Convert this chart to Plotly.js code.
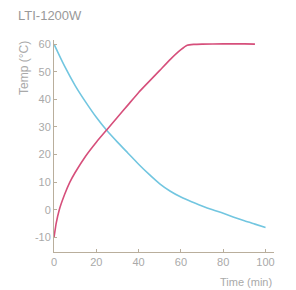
<!DOCTYPE html>
<html>
<head>
<meta charset="utf-8">
<script src="https://cdn.plot.ly/plotly-3.0.1.min.js"></script>
<style>html,body{margin:0;padding:0;background:#fff;}#chart{width:296px;height:290px;}</style>
</head>
<body>
<div id="chart"></div>
<script>
const chartTitle = "LTI-1200W";
const xTitle = "Time (min)";
const yTitle = "Temp (°C)";
const xTicks = [0, 20, 40, 60, 80, 100];
const yTicks = [-10, 0, 10, 20, 30, 40, 50, 60];

const coolTime = [0, 5, 10, 15, 20, 25, 30, 35, 40, 45, 50, 55, 60, 65, 70, 75, 80, 85, 90, 95, 100];
const coolTemp = [60, 52, 45, 39, 33.5, 28.7, 24.5, 20.5, 16.5, 12.8, 9.4, 6.7, 4.6, 2.9, 1.4, 0, -1.3, -2.7, -4, -5.2, -6.4];

const heatTime = [0, 1, 2.5, 5, 7.5, 10, 15, 20, 25, 30, 35, 40, 45, 50, 55, 60, 63, 66, 70, 80, 90, 95];
const heatTemp = [-10, -5, 0, 5.5, 10, 13.5, 19.5, 24.5, 29, 33.5, 38, 42.5, 46.5, 50.5, 54.5, 58, 59.6, 59.9, 60, 60.1, 60.1, 60];

const axisColor = "#b9ae9c";
const textColor = "#a9a9a9";

const traces = [
  {x: coolTime, y: coolTemp, mode: "lines", line: {color: "#72c6e0", width: 1.6, shape: "spline", smoothing: 0.8}, hoverinfo: "skip"},
  {x: heatTime, y: heatTemp, mode: "lines", line: {color: "#d64f7b", width: 1.6, shape: "spline", smoothing: 0.3}, hoverinfo: "skip"}
];

const layout = {
  width: 296, height: 290,
  margin: {l: 54, r: 22, t: 40, b: 38},
  paper_bgcolor: "#fff", plot_bgcolor: "#fff",
  showlegend: false,
  font: {family: "Liberation Sans, Arial, sans-serif", color: textColor, size: 11},
  title: {text: chartTitle, x: 18/296, xanchor: "left", y: 1 - 15/290, yanchor: "middle", font: {size: 13, color: "#999999", family: "Liberation Sans, Arial, sans-serif"}},
  xaxis: {range: [0, 104], tickvals: xTicks, ticktext: xTicks.map(String), showgrid: false, zeroline: false,
          showline: true, linecolor: axisColor, linewidth: 1, ticks: "inside", ticklen: 3, tickcolor: axisColor,
          tickfont: {size: 11, color: textColor}},
  yaxis: {range: [-15.3, 61.5], tickvals: yTicks, ticktext: yTicks.map(String), showgrid: false, zeroline: false,
          showline: true, linecolor: axisColor, linewidth: 1, ticks: "inside", ticklen: 3, tickcolor: axisColor,
          tickfont: {size: 11, color: textColor}},
  annotations: [
    {text: yTitle, xref: "paper", yref: "paper", x: -30/220, y: 1 - 28/212, xanchor: "center", yanchor: "middle", textangle: -90, showarrow: false, font: {size: 12, color: textColor}},
    {text: xTitle, xref: "paper", yref: "paper", x: 1.0, y: -30/212, xanchor: "right", yanchor: "middle", showarrow: false, font: {size: 11, color: textColor}}
  ]
};

Plotly.newPlot("chart", traces, layout, {displayModeBar: false, staticPlot: true});
</script>
</body>
</html>
